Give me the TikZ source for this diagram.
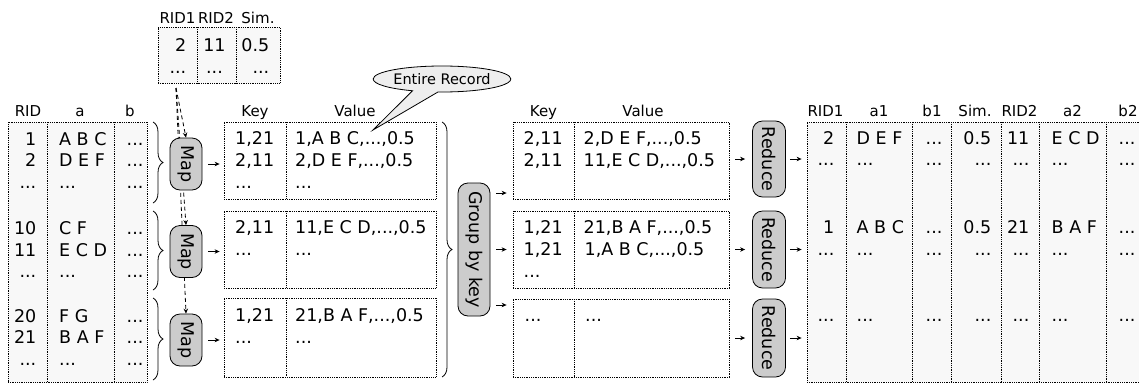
\documentclass[tikz,border=0pt]{standalone}
\usepackage{fontspec}
\setmainfont{DejaVu Sans}
\usepackage{graphicx}
\usetikzlibrary{arrows.meta,decorations.pathreplacing,shapes.callouts,backgrounds}
\definecolor{tblgray}{HTML}{F8F8F8}
\definecolor{procgray}{HTML}{CCCCCC}
\definecolor{callgray}{HTML}{EEEEEE}
\newcommand\bodyfont{\fontsize{17.5pt}{21pt}\selectfont}
\newcommand\headfont{\fontsize{15pt}{18pt}\selectfont}
\newcommand\callfont{\fontsize{14.5pt}{16pt}\selectfont}
\newcommand\cellL[4]{\node[cell,anchor=base west] (#1) at (#2,#3) {#4};}
\newcommand\cellR[4]{\node[cell,anchor=base east] (#1) at (#2,#3) {#4};}
\newcommand\cellC[4]{\node[cell,anchor=base] (#1) at (#2,#3) {#4};}
\newcommand\hdrC[4]{\node[hdr] (#1) at (#2,#3) {#4};}
\begin{document}
\begin{tikzpicture}[x=1pt,y=-1pt,
  cell/.style={inner sep=0pt,font=\bodyfont},
  hdr/.style={inner sep=0pt,font=\headfont,anchor=base},
  tbl/.style={draw,densely dotted,line width=0.8pt,fill=tblgray,inner sep=0pt},
  kvbox/.style={draw,densely dotted,line width=0.8pt,fill=white,inner sep=0pt},
  sep/.style={densely dotted,line width=0.8pt},
  proc/.style={draw,fill=procgray,rounded corners=10pt,line width=0.8pt,inner sep=0pt,font=\bodyfont},
  arr/.style={-{Stealth[length=5pt,width=4.5pt]},line width=0.8pt},
  darr/.style={arr,dash pattern=on 4pt off 3pt},
  brc/.style={decorate,decoration={brace,amplitude=10pt},line width=0.8pt},
]
\useasboundingbox (0,0) rectangle (1139,383);
\clip (0,0) rectangle (1139,383);

% ---------- input table
\node[tbl,minimum width=139pt,minimum height=260pt] (inp) at (77.5,252) {};
\draw[sep] (47,122) -- (47,382);
\draw[sep] (114,122) -- (114,382);
\hdrC{hRID}{28}{116.8}{RID}
\hdrC{ha}{80}{116.8}{a}
\hdrC{hb}{130}{116.8}{b}
\cellR{i11}{36.5}{145}{1}     \cellL{i12}{59}{145}{A B C}   \cellL{i13}{126.5}{145}{...}
\cellR{i21}{36.5}{166.7}{2}   \cellL{i22}{59}{166.7}{D E F} \cellL{i23}{126.5}{166.7}{...}
\cellR{i31}{36.5}{188.5}{...} \cellL{i32}{59}{188.5}{...}   \cellL{i33}{126.5}{188.5}{...}
\cellR{i41}{36.5}{234.5}{10}  \cellL{i42}{59}{234.5}{C F}   \cellL{i43}{126.5}{234.5}{...}
\cellR{i51}{36.5}{256}{11}    \cellL{i52}{59}{256}{E C D}   \cellL{i53}{126.5}{256}{...}
\cellR{i61}{36.5}{277.5}{...} \cellL{i62}{59}{277.5}{...}   \cellL{i63}{126.5}{277.5}{...}
\cellR{i71}{36.5}{322.3}{20}  \cellL{i72}{59}{322.3}{F G}   \cellL{i73}{126.5}{322.3}{...}
\cellR{i81}{36.5}{343.5}{21}  \cellL{i82}{59}{343.5}{B A F} \cellL{i83}{126.5}{343.5}{...}
\cellR{i91}{36.5}{365}{...}   \cellL{i92}{59}{365}{...}     \cellL{i93}{126.5}{365}{...}

% ---------- small similarity table
\node[tbl,minimum width=122pt,minimum height=56pt] (stab) at (219,55) {};
\draw[sep] (197,27) -- (197,83);
\draw[sep] (236,27) -- (236,83);
\hdrC{sh1}{177.5}{23.3}{RID1}
\hdrC{sh2}{216}{23.3}{RID2}
\hdrC{sh3}{258}{23.3}{Sim.}
\cellR{s11}{186.5}{51.7}{2}   \cellC{s12}{214.5}{51.7}{11}  \cellR{s13}{269.5}{51.7}{0.5}
\cellR{s21}{186.5}{73}{...}   \cellC{s22}{214.5}{73}{...}   \cellR{s23}{269.5}{73}{...}
\coordinate (dsrc) at (176,88);

% ---------- braces on input
\draw[brc] (153,122) -- (153,203);
\draw[brc] (153,211) -- (153,290);
\draw[brc] (153,298) -- (153,380);

% ---------- map nodes
\node[proc,minimum width=32pt,minimum height=52pt] (map1) at (186,164) {\rotatebox{-90}{Map}};
\node[proc,minimum width=32pt,minimum height=52pt] (map2) at (186,251.5) {\rotatebox{-90}{Map}};
\node[proc,minimum width=32pt,minimum height=52pt] (map3) at (186,340) {\rotatebox{-90}{Map}};

% ---------- left key/value boxes
\node[kvbox,minimum width=212pt,minimum height=77pt] (lkv1) at (330,160.5) {};
\node[kvbox,minimum width=212pt,minimum height=77pt] (lkv2) at (330,249.5) {};
\node[kvbox,minimum width=212pt,minimum height=79pt] (lkv3) at (330,337.5) {};
\draw[sep] (286,122) -- (286,199);
\draw[sep] (286,211) -- (286,288);
\draw[sep] (286,298) -- (286,377);
\hdrC{lk}{255}{116.8}{Key}
\hdrC{lv}{355}{116.8}{Value}
\cellL{a11}{235}{144}{1,21}   \cellL{a12}{295}{144}{1,A B C,...,0.5}
\cellL{a21}{235}{166}{2,11}   \cellL{a22}{295}{166}{2,D E F,...,0.5}
\cellL{a31}{235}{188}{...}    \cellL{a32}{295}{188}{...}
\cellL{b11}{235}{233.5}{2,11} \cellL{b12}{295}{233.5}{11,E C D,...,0.5}
\cellL{b21}{235}{255}{...}    \cellL{b22}{295}{255}{...}
\cellL{c11}{235}{321.7}{1,21} \cellL{c12}{295}{321.7}{21,B A F,...,0.5}
\cellL{c21}{235}{343.5}{...}  \cellL{c22}{295}{343.5}{...}

\draw[arr,shorten <=6pt,shorten >=4pt] (map1.east) -- (lkv1.west |- map1.east);
\draw[arr,shorten <=6pt,shorten >=4pt] (map2.east) -- (lkv2.west |- map2.east);
\draw[arr,shorten <=6pt,shorten >=4pt] (map3.east) -- (lkv3.west |- map3.east);

% ---------- callout
\node[ellipse callout,draw,line width=0.8pt,fill=callgray,minimum width=106pt,minimum height=26pt,
  inner sep=0pt,font=\callfont,callout absolute pointer={(373,130)},callout pointer arc=22] (ent) at (442,79) {Entire Record};

% ---------- group by key
\draw[brc] (442,122) -- (442,377);
\node[proc,minimum width=32pt,minimum height=133pt] (grp) at (474,249.5) {\rotatebox{-90}{Group by key}};

% ---------- right key/value boxes
\node[kvbox,minimum width=216pt,minimum height=77pt] (rkv1) at (621,160.5) {};
\node[kvbox,minimum width=216pt,minimum height=77pt] (rkv2) at (621,249.5) {};
\node[kvbox,minimum width=216pt,minimum height=78pt] (rkv3) at (621,338) {};
\draw[sep] (574,122) -- (574,199);
\draw[sep] (574,211) -- (574,288);
\draw[sep] (574,299) -- (574,377);
\hdrC{rk}{543.5}{116.8}{Key}
\hdrC{rv}{643}{116.8}{Value}
\cellL{d11}{523.5}{144.3}{2,11} \cellL{d12}{583.5}{144.3}{2,D E F,...,0.5}
\cellL{d21}{523.5}{166.5}{2,11} \cellL{d22}{583.5}{166.5}{11,E C D,...,0.5}
\cellL{e11}{523.5}{233.3}{1,21} \cellL{e12}{583.5}{233.3}{21,B A F,...,0.5}
\cellL{e21}{523.5}{255}{1,21}   \cellL{e22}{584.5}{255}{1,A B C,...,0.5}
\cellL{e31}{523.5}{277}{...}
\cellL{f11}{524.5}{321}{...}    \cellL{f12}{585}{321}{...}

\coordinate (g1) at (0,193);
\coordinate (g2) at (0,249.5);
\coordinate (g3) at (0,305);
\draw[arr,shorten <=6pt,shorten >=6pt] (grp.east |- g1) -- (rkv1.west |- g1);
\draw[arr,shorten <=6pt,shorten >=6pt] (grp.east |- g2) -- (rkv2.west |- g2);
\draw[arr,shorten <=6pt,shorten >=6pt] (grp.east |- g3) -- (rkv3.west |- g3);

% ---------- reduce nodes
\node[proc,minimum width=33pt,minimum height=76pt] (red1) at (769,159) {\rotatebox{-90}{Reduce}};
\node[proc,minimum width=33pt,minimum height=77pt] (red2) at (769,249.5) {\rotatebox{-90}{Reduce}};
\node[proc,minimum width=33pt,minimum height=78pt] (red3) at (769,338) {\rotatebox{-90}{Reduce}};
\draw[arr,shorten <=6pt,shorten >=7pt] (rkv1.east |- red1.west) -- (red1.west);
\draw[arr,shorten <=6pt,shorten >=7pt] (rkv2.east |- red2.west) -- (red2.west);
\draw[arr,shorten <=6pt,shorten >=7pt] (rkv3.east |- red3.west) -- (red3.west);

% ---------- output table
\node[tbl,minimum width=343pt,minimum height=260pt] (out) at (978.5,252) {};
\foreach \xx in {846,912,951,1001,1039,1106} {\draw[sep] (\xx,122) -- (\xx,382);}
\draw[arr,shorten <=4pt,shorten >=5pt] (red1.east) -- (out.west |- red1.east);
\draw[arr,shorten <=4pt,shorten >=5pt] (red2.east) -- (out.west |- red2.east);
\draw[arr,shorten <=4pt,shorten >=5pt] (red3.east) -- (out.west |- red3.east);
\hdrC{o1}{825.5}{116.8}{RID1}
\hdrC{o2}{879}{116.8}{a1}
\hdrC{o3}{932}{116.8}{b1}
\hdrC{o4}{975}{116.8}{Sim.}
\hdrC{o5}{1019.5}{116.8}{RID2}
\hdrC{o6}{1072.5}{116.8}{a2}
\hdrC{o7}{1128}{116.8}{b2}
% section 1
\cellR{p11}{834.5}{144}{2} \cellL{p12}{856.5}{144}{D E F} \cellL{p13}{925.5}{144}{...}
\cellR{p14}{991.5}{144}{0.5} \cellR{p15}{1029.5}{144}{11} \cellL{p16}{1051.5}{144}{E C D} \cellL{p17}{1118.5}{144}{...}
\cellR{p21}{834.5}{165.5}{...} \cellL{p22}{856.5}{165.5}{...} \cellL{p23}{925.5}{165.5}{...}
\cellR{p24}{991.5}{165.5}{...} \cellR{p25}{1029.5}{165.5}{...} \cellL{p26}{1051.5}{165.5}{...} \cellL{p27}{1118.5}{165.5}{...}
% section 2
\cellR{q11}{834.5}{233.3}{1} \cellL{q12}{856.5}{233.3}{A B C} \cellL{q13}{925.5}{233.3}{...}
\cellR{q14}{991.5}{233.3}{0.5} \cellR{q15}{1029.5}{233.3}{21} \cellL{q16}{1051.5}{233.3}{B A F} \cellL{q17}{1118.5}{233.3}{...}
\cellR{q21}{834.5}{255}{...} \cellL{q22}{856.5}{255}{...} \cellL{q23}{925.5}{255}{...}
\cellR{q24}{991.5}{255}{...} \cellR{q25}{1029.5}{255}{...} \cellL{q26}{1051.5}{255}{...} \cellL{q27}{1118.5}{255}{...}
% section 3
\cellR{r21}{834.5}{321}{...} \cellL{r22}{856.5}{321}{...} \cellL{r23}{925.5}{321}{...}
\cellR{r24}{991.5}{321}{...} \cellR{r25}{1029.5}{321}{...} \cellL{r26}{1051.5}{321}{...} \cellL{r27}{1118.5}{321}{...}

% ---------- dashed similarity arrows (behind the map nodes)
\begin{pgfonlayer}{background}
\draw[darr] (dsrc) -- (map1.north);
\draw[darr] (dsrc) -- (map2.north);
\draw[darr] (dsrc) -- (map3.north);
\end{pgfonlayer}
\end{tikzpicture}
\end{document}
